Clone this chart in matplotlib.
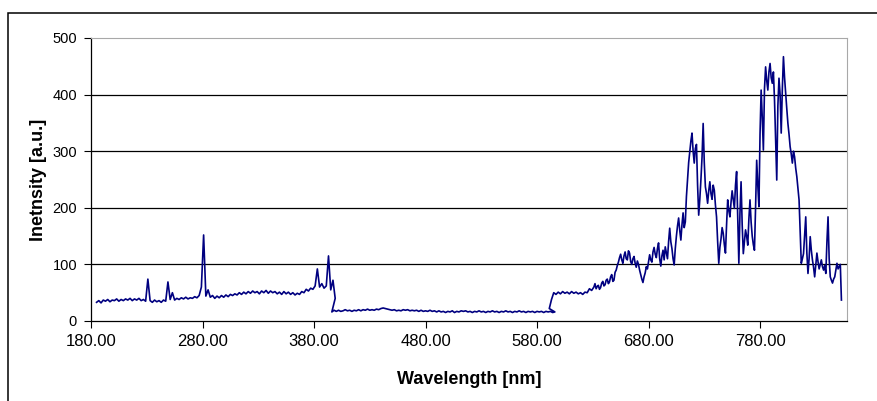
import numpy as np
import matplotlib.pyplot as plt
from matplotlib.patches import Rectangle

# spectrum, detector windows (nm, a.u.)
wl_uv = np.arange(185, 400, 2)
int_uv = [33, 36, 32, 37, 35, 38, 34, 37, 36, 39,
          35, 38, 36, 39, 37, 40, 36, 39, 37, 40,
          36, 38, 35, 74, 36, 33, 37, 34, 36, 33,
          37, 35, 69, 38, 50, 37, 40, 38, 41, 39,
          42, 39, 41, 40, 43, 41, 45, 60, 152, 44,
          55, 42, 45, 40, 44, 41, 45, 42, 46, 43,
          47, 45, 48, 46, 50, 47, 51, 48, 52, 49,
          53, 50, 52, 48, 53, 50, 54, 49, 53, 50,
          52, 48, 51, 47, 52, 48, 51, 47, 50, 46,
          49, 47, 52, 50, 56, 53, 58, 56, 62, 92,
          60, 66, 58, 62, 115, 55, 72, 40]

wl_vis = np.arange(396, 598, 2)
int_vis = [16, 19, 17, 19, 17, 18, 20, 18, 19, 17,
           19, 18, 20, 18, 20, 19, 21, 19, 20, 19,
           21, 20, 22, 23, 22, 21, 20, 19, 20, 18,
           19, 18, 20, 19, 20, 18, 19, 18, 19, 17,
           19, 17, 18, 17, 19, 17, 18, 16, 18, 16,
           17, 15, 17, 16, 18, 15, 17, 16, 18, 17,
           18, 16, 17, 15, 17, 16, 18, 16, 17, 15,
           17, 16, 18, 16, 17, 15, 17, 16, 18, 16,
           17, 15, 17, 16, 18, 16, 17, 15, 17, 16,
           17, 15, 17, 16, 17, 15, 17, 16, 17, 15,
           16]

wl_red = np.arange(591, 631, 2)
int_red = [22, 38, 50, 47, 51, 48, 52, 49, 51, 48,
           52, 49, 51, 48, 50, 47, 51, 50, 57, 54]

wl_nir = np.arange(631, 854, 1)
int_nir = [60, 66, 57, 61, 63, 56, 59, 67, 70, 62, 64, 72, 74, 66, 69, 78, 82, 70, 72, 86,
           90, 98, 104, 112, 118, 108, 102, 115, 122, 110, 108, 124, 120, 105, 100, 110, 114, 102, 95, 106,
           100, 90, 82, 74, 68, 78, 85, 96, 92, 105, 117, 108, 104, 122, 130, 118, 112, 128, 138, 110,
           97, 115, 125, 108, 131, 120, 110, 140, 164, 140, 128, 110, 99, 128, 150, 168, 182, 160, 143, 170,
           191, 165, 175, 220, 249, 280, 300, 318, 332, 300, 279, 305, 312, 240, 187, 215, 250, 290, 349, 280,
           237, 225, 208, 230, 246, 225, 215, 240, 231, 205, 184, 140, 102, 130, 145, 165, 155, 135, 120, 170,
           214, 195, 184, 210, 230, 215, 199, 240, 264, 180, 102, 190, 246, 170, 119, 140, 161, 150, 134, 180,
           214, 175, 150, 135, 125, 200, 284, 240, 202, 330, 408, 360, 302, 410, 449, 425, 408, 440, 455, 430,
           420, 440, 390, 320, 249, 380, 429, 400, 332, 410, 467, 430, 402, 375, 349, 330, 308, 295, 279, 300,
           290, 270, 255, 235, 214, 160, 102, 110, 119, 150, 184, 120, 84, 110, 149, 125, 108, 95, 78, 100,
           120, 105, 92, 100, 108, 96, 90, 98, 84, 140, 184, 110, 78, 72, 67, 74, 78, 90, 102, 92,
           96, 100, 37]

x_ticks = np.arange(180, 781, 100)
y_ticks = [0, 100, 200, 300, 400, 500]

wl = np.concatenate([wl_uv, wl_vis, wl_red, wl_nir])
inten = np.concatenate([int_uv, int_vis, int_red, int_nir])

plt.rcParams['font.family'] = 'Liberation Sans'

fig = plt.figure(figsize=(8.78, 4.01), dpi=100)
ax = fig.add_axes([91/878, 1 - 321/401, (847 - 91)/878, (321 - 38)/401])

ax.plot(wl, inten, color='#000080', lw=1.2)

ax.set_xlim(180, 858)
ax.set_ylim(0, 500)
ax.set_xticks(x_ticks)
ax.set_xticklabels(['%.2f' % v for v in x_ticks])
ax.set_yticks(y_ticks)
ax.tick_params(axis='x', direction='out', length=5, width=0.8, pad=4, labelsize=12)
ax.tick_params(axis='y', direction='out', length=5, width=0.8, pad=5, labelsize=10.5)

ax.yaxis.grid(True, color='black', lw=0.9)
gl = ax.get_ygridlines()
gl[0].set_visible(False)
gl[-1].set_visible(False)

ax.spines['top'].set_color('#a8a8a8')
ax.spines['right'].set_color('#a8a8a8')
ax.spines['left'].set_linewidth(0.9)
ax.spines['bottom'].set_linewidth(0.9)

ax.set_xlabel('Wavelength [nm]', fontsize=13, fontweight='bold', labelpad=16)
ax.set_ylabel('Inetnsity [a.u.]', fontsize=13, fontweight='bold', labelpad=4)

# outer chart frame
fig.add_artist(Rectangle((8/878, -0.1), 1.2, 1 - 13/401 + 0.1,
                         transform=fig.transFigure, fill=False,
                         ec='black', lw=1.1))

fig.savefig('out.png', dpi=100)
